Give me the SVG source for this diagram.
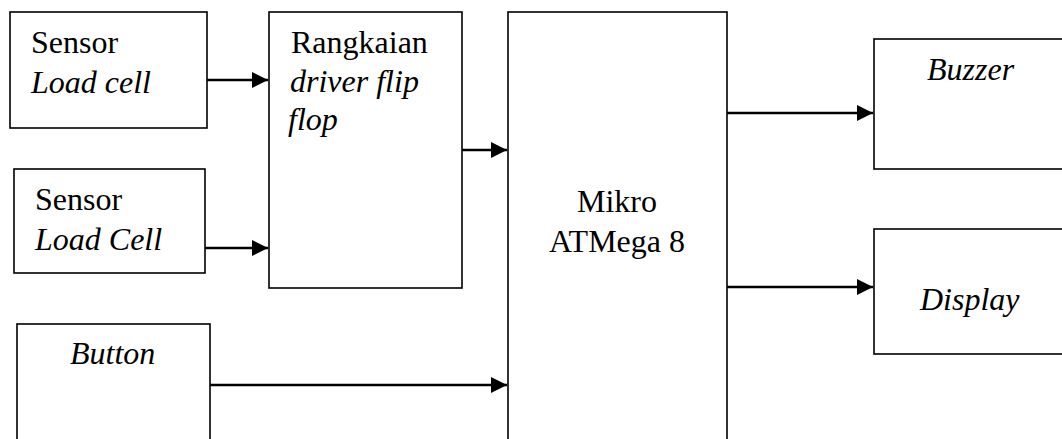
<svg xmlns="http://www.w3.org/2000/svg" width="1062" height="439" viewBox="0 0 1062 439">
<style>
.box{fill:#fff;stroke:#000;stroke-width:1.6}
.t{font-family:"Liberation Serif","Times New Roman",serif;font-size:32px;fill:#000}
.i{font-style:italic}
.c{stroke:#000;stroke-width:2.4;fill:none}
</style>
<defs>
<marker id="ah" markerUnits="userSpaceOnUse" markerWidth="18" markerHeight="18" refX="16" refY="8" orient="auto">
<path d="M0,0 L16,8 L0,16 z" fill="#000"/>
</marker>
</defs>
<rect width="1062" height="439" fill="#fff"/>
<g id="sensor1">
<rect class="box" x="10" y="12" width="197" height="116"/>
<text class="t" x="31" y="53">Sensor</text>
<text class="t i" x="31" y="93">Load cell</text>
</g>
<g id="sensor2">
<rect class="box" x="14" y="169" width="191" height="104"/>
<text class="t" x="35" y="210">Sensor</text>
<text class="t i" x="35" y="250">Load Cell</text>
</g>
<g id="button">
<rect class="box" x="17" y="324" width="193" height="130"/>
<text class="t i" x="70" y="364">Button</text>
</g>
<g id="flipflop">
<rect class="box" x="269" y="12" width="193" height="276"/>
<text class="t" x="291" y="53">Rangkaian</text>
<text class="t i" x="290" y="92">driver flip</text>
<text class="t i" x="288" y="130">flop</text>
</g>
<g id="mikro">
<rect class="box" x="508" y="12" width="219" height="440"/>
<text class="t" x="617" y="212" text-anchor="middle">Mikro</text>
<text class="t" x="617" y="252" text-anchor="middle">ATMega 8</text>
</g>
<g id="buzzer">
<rect class="box" x="874" y="39" width="200" height="130"/>
<text class="t i" x="927" y="80">Buzzer</text>
</g>
<g id="display">
<rect class="box" x="874" y="229" width="200" height="125"/>
<text class="t i" x="920" y="310">Display</text>
</g>
<g id="connectors">
<line class="c" x1="207" y1="80" x2="268" y2="80" marker-end="url(#ah)"/>
<line class="c" x1="205" y1="248" x2="268" y2="248" marker-end="url(#ah)"/>
<line class="c" x1="462" y1="150" x2="507" y2="150" marker-end="url(#ah)"/>
<line class="c" x1="210" y1="385" x2="507" y2="385" marker-end="url(#ah)"/>
<line class="c" x1="727" y1="113" x2="873" y2="113" marker-end="url(#ah)"/>
<line class="c" x1="727" y1="287" x2="873" y2="287" marker-end="url(#ah)"/>
</g>
</svg>
